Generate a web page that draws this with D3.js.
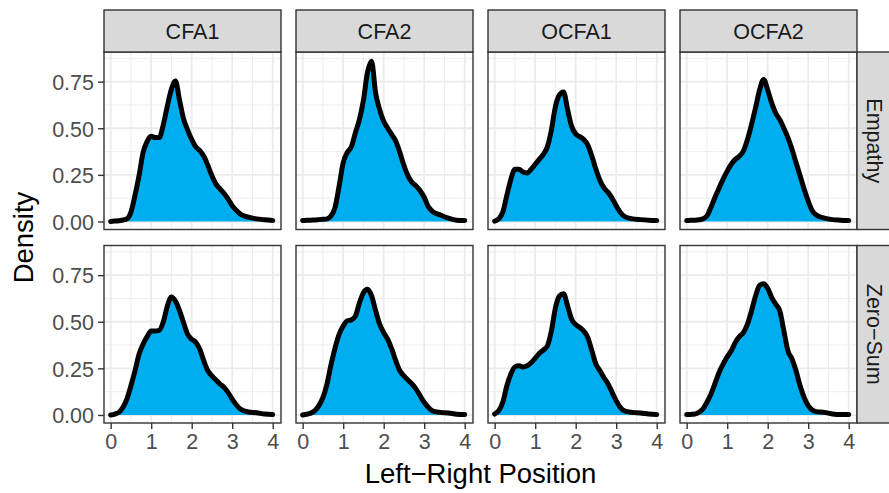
<!DOCTYPE html>
<html>
<head>
<meta charset="utf-8">
<script src="https://cdn.jsdelivr.net/npm/d3@7"></script>
<style>
  body { margin: 0; background: #fff; }
  svg { display: block; font-family: "Liberation Sans", Arial, sans-serif; }
</style>
</head>
<body>
<svg id="chart"></svg>
<script>
// facet labels
var models = ["CFA1", "CFA2", "OCFA1", "OCFA2"];
var frames = ["Empathy", "Zero\u2212Sum"];

// x grid the densities were read at
var positions = [0, 0.1, 0.2, 0.3, 0.4, 0.5, 0.6, 0.7, 0.8, 0.9, 1.0, 1.1, 1.2, 1.3, 1.4, 1.5, 1.6, 1.7, 1.8, 1.9,
                 2.0, 2.1, 2.2, 2.3, 2.4, 2.5, 2.6, 2.7, 2.8, 2.9, 3.0, 3.1, 3.2, 3.4, 3.6, 3.8, 4.0];

// density estimates, one array per panel
var cfa1Empathy = [0, 0.002, 0.004, 0.008, 0.014, 0.05, 0.14, 0.245, 0.37, 0.43, 0.457, 0.45, 0.45, 0.52, 0.62, 0.71, 0.753, 0.65, 0.55, 0.49,
                   0.44, 0.40, 0.38, 0.35, 0.30, 0.245, 0.20, 0.175, 0.15, 0.12, 0.085, 0.06, 0.04, 0.023, 0.014, 0.009, 0.005];
var cfa2Empathy = [0.005, 0.006, 0.007, 0.008, 0.01, 0.012, 0.014, 0.03, 0.076, 0.19, 0.315, 0.37, 0.40, 0.475, 0.546, 0.65, 0.80, 0.86, 0.69, 0.60,
                   0.537, 0.50, 0.466, 0.43, 0.37, 0.30, 0.245, 0.21, 0.19, 0.165, 0.13, 0.08, 0.055, 0.035, 0.018, 0.007, 0.005];
var ocfa1Empathy = [0.002, 0.014, 0.05, 0.14, 0.227, 0.28, 0.28, 0.265, 0.26, 0.28, 0.307, 0.333, 0.36, 0.40, 0.49, 0.617, 0.68, 0.695, 0.60, 0.51,
                    0.47, 0.455, 0.44, 0.41, 0.35, 0.28, 0.22, 0.18, 0.156, 0.124, 0.085, 0.05, 0.028, 0.014, 0.01, 0.007, 0.005];
var ocfa2Empathy = [0.005, 0.006, 0.007, 0.009, 0.014, 0.03, 0.076, 0.13, 0.18, 0.227, 0.27, 0.307, 0.333, 0.35, 0.378, 0.44, 0.52, 0.61, 0.705, 0.762,
                    0.705, 0.635, 0.58, 0.546, 0.50, 0.45, 0.387, 0.316, 0.245, 0.174, 0.11, 0.058, 0.035, 0.018, 0.01, 0.007, 0.005];
var cfa1ZeroSum = [0, 0.005, 0.014, 0.04, 0.085, 0.157, 0.237, 0.326, 0.38, 0.42, 0.45, 0.45, 0.455, 0.50, 0.585, 0.633, 0.61, 0.56, 0.495, 0.433,
                   0.406, 0.39, 0.353, 0.29, 0.237, 0.21, 0.187, 0.166, 0.148, 0.12, 0.085, 0.055, 0.032, 0.016, 0.012, 0.005, 0.002];
var cfa2ZeroSum = [0, 0.004, 0.01, 0.023, 0.05, 0.094, 0.166, 0.27, 0.36, 0.433, 0.477, 0.505, 0.51, 0.53, 0.60, 0.656, 0.674, 0.64, 0.56, 0.487,
                   0.442, 0.406, 0.353, 0.29, 0.237, 0.21, 0.187, 0.166, 0.139, 0.103, 0.068, 0.041, 0.023, 0.014, 0.011, 0.004, 0.002];
var ocfa1ZeroSum = [0.005, 0.023, 0.068, 0.157, 0.22, 0.258, 0.264, 0.258, 0.264, 0.28, 0.305, 0.33, 0.348, 0.37, 0.45, 0.575, 0.638, 0.65, 0.585, 0.513,
                    0.485, 0.469, 0.45, 0.415, 0.344, 0.273, 0.237, 0.20, 0.166, 0.121, 0.077, 0.041, 0.023, 0.014, 0.011, 0.005, 0.002];
var ocfa2ZeroSum = [0.002, 0.003, 0.005, 0.014, 0.032, 0.068, 0.112, 0.17, 0.228, 0.273, 0.312, 0.344, 0.389, 0.42, 0.442, 0.487, 0.558, 0.638, 0.695, 0.704,
                    0.68, 0.63, 0.594, 0.558, 0.45, 0.344, 0.30, 0.237, 0.157, 0.094, 0.05, 0.027, 0.018, 0.014, 0.005, 0.002, 0.002];

// ticks
var xTicks = [0, 1, 2, 3, 4];
var xMinor = [0.5, 1.5, 2.5, 3.5];
var yTicks = [0, 0.25, 0.5, 0.75];
var yMinor = [0.125, 0.375, 0.625, 0.875];

// panel rows x columns
var panels = [
    [cfa1Empathy, cfa2Empathy, ocfa1Empathy, ocfa2Empathy],
    [cfa1ZeroSum, cfa2ZeroSum, ocfa1ZeroSum, ocfa2ZeroSum]
];

var width = 889, height = 493;
var plotLeft = 104, plotTop = 52;
var panelW = 177, panelH = 177.5;
var colGap = 15, rowGap = 16;
var stripH = 42;

var svg = d3.select("#chart")
    .attr("width", width)
    .attr("height", height);

svg.append("rect").attr("width", width).attr("height", height).attr("fill", "#fff");

var x = d3.scaleLinear().domain([-0.165, 4.205]).range([0, panelW]);
var y = d3.scaleLinear().domain([-0.043, 0.909]).range([panelH, 0]);

var area = d3.area()
    .x(function(d) { return x(d[0]); })
    .y0(y(0))
    .y1(function(d) { return y(d[1]); })
    .curve(d3.curveMonotoneX);

var line = d3.line()
    .x(function(d) { return x(d[0]); })
    .y(function(d) { return y(d[1]); })
    .curve(d3.curveMonotoneX);

panels.forEach(function(row, r) {
    row.forEach(function(values, c) {
        var px = plotLeft + c * (panelW + colGap);
        var py = plotTop + r * (panelH + rowGap);
        var g = svg.append("g").attr("transform", "translate(" + px + "," + py + ")");

        // minor grid
        g.selectAll(".ymin").data(yMinor).join("line")
            .attr("x1", 0).attr("x2", panelW)
            .attr("y1", function(d) { return y(d); }).attr("y2", function(d) { return y(d); })
            .attr("stroke", "#ebebeb").attr("stroke-width", 0.9);
        g.selectAll(".xmin").data(xMinor).join("line")
            .attr("y1", 0).attr("y2", panelH)
            .attr("x1", function(d) { return x(d); }).attr("x2", function(d) { return x(d); })
            .attr("stroke", "#ebebeb").attr("stroke-width", 0.9);
        // major grid
        g.selectAll(".ymaj").data(yTicks).join("line")
            .attr("x1", 0).attr("x2", panelW)
            .attr("y1", function(d) { return y(d); }).attr("y2", function(d) { return y(d); })
            .attr("stroke", "#ebebeb").attr("stroke-width", 1.8);
        g.selectAll(".xmaj").data(xTicks).join("line")
            .attr("y1", 0).attr("y2", panelH)
            .attr("x1", function(d) { return x(d); }).attr("x2", function(d) { return x(d); })
            .attr("stroke", "#ebebeb").attr("stroke-width", 1.8);

        var pts = positions.map(function(p, i) { return [p, values[i]]; });

        g.append("path").datum(pts)
            .attr("d", area)
            .attr("fill", "#00aeef");
        g.append("path").datum(pts)
            .attr("d", line)
            .attr("fill", "none")
            .attr("stroke", "#000")
            .attr("stroke-width", 5)
            .attr("stroke-linejoin", "round")
            .attr("stroke-linecap", "round");

        // border
        g.append("rect")
            .attr("width", panelW).attr("height", panelH)
            .attr("fill", "none").attr("stroke", "#333").attr("stroke-width", 1.4);

        // y axis on first column
        if (c === 0) {
            var ya = g.append("g").call(d3.axisLeft(y).tickValues(yTicks).tickSize(6).tickPadding(4)
                .tickFormat(d3.format(".2f")));
            ya.select(".domain").remove();
            ya.selectAll(".tick line").attr("stroke", "#333").attr("stroke-width", 1.4);
            ya.selectAll(".tick text").attr("fill", "#4d4d4d").style("font-size", "21.5px")
                .style("font-family", "Liberation Sans, Arial, sans-serif")
                .attr("dy", "0.36em");
        }
        // x axis on bottom row
        if (r === panels.length - 1) {
            var xa = g.append("g").attr("transform", "translate(0," + panelH + ")")
                .call(d3.axisBottom(x).tickValues(xTicks).tickSize(6).tickPadding(4)
                .tickFormat(d3.format("d")));
            xa.select(".domain").remove();
            xa.selectAll(".tick line").attr("stroke", "#333").attr("stroke-width", 1.4);
            xa.selectAll(".tick text").attr("fill", "#4d4d4d").style("font-size", "21.5px")
                .style("font-family", "Liberation Sans, Arial, sans-serif")
                .attr("dy", "0.75em");
        }
        // column strip
        if (r === 0) {
            svg.append("rect")
                .attr("x", px).attr("y", plotTop - stripH)
                .attr("width", panelW).attr("height", stripH)
                .attr("fill", "#d9d9d9").attr("stroke", "#333").attr("stroke-width", 1.4);
            svg.append("text")
                .attr("x", px + panelW / 2).attr("y", plotTop - stripH / 2)
                .attr("dy", "0.35em")
                .attr("text-anchor", "middle")
                .attr("fill", "#1a1a1a").style("font-size", "21.5px")
                .text(models[c]);
        }
        // row strip
        if (c === row.length - 1) {
            var sx = px + panelW;
            svg.append("rect")
                .attr("x", sx).attr("y", py)
                .attr("width", stripH).attr("height", panelH)
                .attr("fill", "#d9d9d9").attr("stroke", "#333").attr("stroke-width", 1.4);
            svg.append("text")
                .attr("transform", "translate(" + (sx + stripH / 2 - 3) + "," + (py + panelH / 2) + ") rotate(90)")
                .attr("dy", "0.35em")
                .attr("text-anchor", "middle")
                .attr("fill", "#1a1a1a").style("font-size", "21.5px")
                .text(frames[r]);
        }
    });
});

// axis titles
var panelsRight = plotLeft + models.length * panelW + (models.length - 1) * colGap;
var panelsBottom = plotTop + 2 * panelH + rowGap;

svg.append("text")
    .attr("x", (plotLeft + panelsRight) / 2)
    .attr("y", 483)
    .attr("text-anchor", "middle")
    .attr("fill", "#000")
    .style("font-size", "27.5px")
    .text("Left\u2212Right Position");

svg.append("text")
    .attr("transform", "translate(33," + ((plotTop + panelsBottom) / 2) + ") rotate(-90)")
    .attr("text-anchor", "middle")
    .attr("fill", "#000")
    .style("font-size", "27.5px")
    .text("Density");
</script>
</body>
</html>
